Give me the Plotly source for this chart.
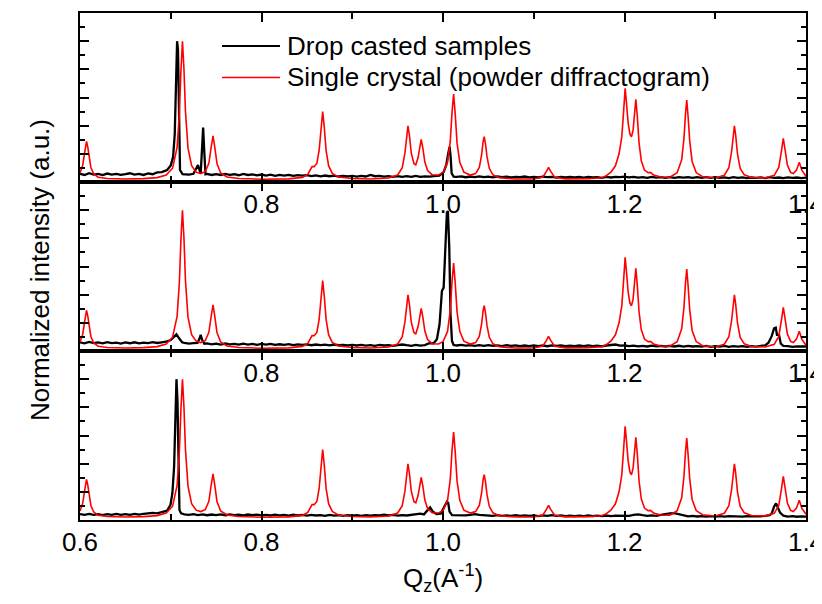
import plotly.graph_objects as go

# ---------------- data ----------------
# Powder diffractogram of the single crystal (same curve in all three panels)
red_q = [0.6000, 0.6030, 0.6050, 0.6062, 0.6072, 0.6085, 0.6100, 0.6120, 0.6150, 0.6200,
         0.6300, 0.6500, 0.6700, 0.6850, 0.6950, 0.7020, 0.7070, 0.7095, 0.7112, 0.7129,
         0.7145, 0.7162, 0.7190, 0.7230, 0.7280, 0.7330, 0.7380, 0.7420, 0.7445, 0.7466,
         0.7485, 0.7510, 0.7550, 0.7620, 0.7750, 0.8000, 0.8300, 0.8450, 0.8510, 0.8540,
         0.8557, 0.8580, 0.8610, 0.8635, 0.8655, 0.8674, 0.8692, 0.8712, 0.8740, 0.8780,
         0.8850, 0.9000, 0.9200, 0.9400, 0.9500, 0.9550, 0.9580, 0.9600, 0.9614, 0.9630,
         0.9650, 0.9680, 0.9700, 0.9725, 0.9745, 0.9760, 0.9778, 0.9800, 0.9830, 0.9880,
         0.9950, 1.0000, 1.0050, 1.0080, 1.0100, 1.0117, 1.0135, 1.0155, 1.0185, 1.0230,
         1.0300, 1.0360, 1.0400, 1.0425, 1.0442, 1.0454, 1.0468, 1.0485, 1.0510, 1.0550,
         1.0620, 1.0800, 1.1000, 1.1100, 1.1140, 1.1163, 1.1185, 1.1230, 1.1350, 1.1600,
         1.1750, 1.1800, 1.1850, 1.1900, 1.1940, 1.1970, 1.1990, 1.2007, 1.2022, 1.2040,
         1.2060, 1.2077, 1.2095, 1.2110, 1.2125, 1.2142, 1.2160, 1.2185, 1.2220, 1.2260,
         1.2285, 1.2320, 1.2400, 1.2500, 1.2580, 1.2630, 1.2655, 1.2672, 1.2686, 1.2700,
         1.2718, 1.2745, 1.2790, 1.2860, 1.3000, 1.3100, 1.3150, 1.3180, 1.3198, 1.3211,
         1.3225, 1.3245, 1.3275, 1.3320, 1.3400, 1.3550, 1.3650, 1.3700, 1.3730, 1.3750,
         1.3770, 1.3795, 1.3830, 1.3860, 1.3895, 1.3926, 1.3955, 1.4000]
red_v = [0.064, 0.119, 0.203, 0.265, 0.288, 0.251, 0.173, 0.103, 0.058, 0.034,
         0.025, 0.021, 0.024, 0.031, 0.049, 0.098, 0.246, 0.486, 0.787, 1.000,
         0.810, 0.502, 0.241, 0.116, 0.070, 0.060, 0.073, 0.133, 0.245, 0.328,
         0.248, 0.130, 0.064, 0.036, 0.025, 0.020, 0.022, 0.033, 0.054, 0.091,
         0.110, 0.109, 0.132, 0.224, 0.382, 0.500, 0.388, 0.223, 0.114, 0.061,
         0.035, 0.025, 0.021, 0.028, 0.050, 0.100, 0.203, 0.341, 0.398, 0.332,
         0.207, 0.130, 0.122, 0.172, 0.262, 0.303, 0.240, 0.142, 0.081, 0.052,
         0.050, 0.066, 0.139, 0.288, 0.500, 0.624, 0.480, 0.276, 0.140, 0.070,
         0.049, 0.060, 0.104, 0.190, 0.286, 0.322, 0.272, 0.180, 0.097, 0.051,
         0.030, 0.021, 0.021, 0.036, 0.075, 0.103, 0.077, 0.034, 0.022, 0.023,
         0.030, 0.045, 0.070, 0.115, 0.200, 0.320, 0.500, 0.665, 0.560, 0.420,
         0.340, 0.320, 0.370, 0.500, 0.587, 0.460, 0.280, 0.150, 0.085, 0.066,
         0.068, 0.050, 0.035, 0.034, 0.066, 0.157, 0.307, 0.482, 0.582, 0.470,
         0.297, 0.146, 0.067, 0.037, 0.028, 0.048, 0.101, 0.215, 0.341, 0.398,
         0.333, 0.199, 0.097, 0.051, 0.032, 0.029, 0.047, 0.103, 0.223, 0.310,
         0.226, 0.120, 0.068, 0.060, 0.084, 0.140, 0.082, 0.041]

# Common sampling positions of the drop-casted sample scans (baseline)
q_grid = [0.600, 0.605, 0.610, 0.615, 0.620, 0.625, 0.630, 0.635, 0.640, 0.645,
          0.650, 0.655, 0.660, 0.665, 0.670, 0.675, 0.680, 0.685, 0.690, 0.695,
          0.700, 0.705, 0.710, 0.715, 0.720, 0.725, 0.730, 0.735, 0.740, 0.745,
          0.750, 0.755, 0.760, 0.765, 0.770, 0.775, 0.780, 0.785, 0.790, 0.795,
          0.800, 0.805, 0.810, 0.815, 0.820, 0.825, 0.830, 0.835, 0.840, 0.845,
          0.850, 0.855, 0.860, 0.865, 0.870, 0.875, 0.880, 0.885, 0.890, 0.895,
          0.900, 0.905, 0.910, 0.915, 0.920, 0.925, 0.930, 0.935, 0.940, 0.945,
          0.950, 0.955, 0.960, 0.965, 0.970, 0.975, 0.980, 0.985, 0.990, 0.995,
          1.000, 1.005, 1.010, 1.015, 1.020, 1.025, 1.030, 1.035, 1.040, 1.045,
          1.050, 1.055, 1.060, 1.065, 1.070, 1.075, 1.080, 1.085, 1.090, 1.095,
          1.100, 1.105, 1.110, 1.115, 1.120, 1.125, 1.130, 1.135, 1.140, 1.145,
          1.150, 1.155, 1.160, 1.165, 1.170, 1.175, 1.180, 1.185, 1.190, 1.195,
          1.200, 1.205, 1.210, 1.215, 1.220, 1.225, 1.230, 1.235, 1.240, 1.245,
          1.250, 1.255, 1.260, 1.265, 1.270, 1.275, 1.280, 1.285, 1.290, 1.295,
          1.300, 1.305, 1.310, 1.315, 1.320, 1.325, 1.330, 1.335, 1.340, 1.345,
          1.350, 1.355, 1.360, 1.365, 1.370, 1.375, 1.380, 1.385, 1.390, 1.395,
          1.400]

# Panel 1 (top) drop-casted sample
top_base = [0.058, 0.050, 0.062, 0.052, 0.057, 0.049, 0.060, 0.053, 0.058, 0.051,
            0.056, 0.062, 0.052, 0.058, 0.050, 0.061, 0.055, 0.068, 0.062, 0.075,
            0.120, 1.000, 0.060, 0.055, 0.052, 0.058, 0.120, 0.050, 0.058, 0.050,
            0.056, 0.050, 0.058, 0.051, 0.055, 0.048, 0.057, 0.050, 0.054, 0.047,
            0.053, 0.046, 0.052, 0.044, 0.050, 0.046, 0.051, 0.043, 0.049, 0.045,
            0.048, 0.042, 0.047, 0.040, 0.046, 0.041, 0.045, 0.039, 0.044, 0.040,
            0.043, 0.038, 0.044, 0.039, 0.050, 0.041, 0.044, 0.038, 0.042, 0.037,
            0.042, 0.036, 0.041, 0.037, 0.043, 0.036, 0.040, 0.038, 0.042, 0.045,
            0.060, 0.180, 0.050, 0.036, 0.040, 0.034, 0.039, 0.035, 0.040, 0.034,
            0.038, 0.033, 0.039, 0.035, 0.038, 0.032, 0.037, 0.034, 0.039, 0.033,
            0.037, 0.032, 0.038, 0.034, 0.036, 0.031, 0.037, 0.033, 0.036, 0.032,
            0.036, 0.031, 0.037, 0.033, 0.035, 0.030, 0.036, 0.032, 0.037, 0.034,
            0.038, 0.033, 0.036, 0.031, 0.035, 0.030, 0.036, 0.031, 0.035, 0.030,
            0.034, 0.029, 0.035, 0.031, 0.034, 0.029, 0.035, 0.030, 0.034, 0.029,
            0.034, 0.029, 0.033, 0.028, 0.034, 0.030, 0.033, 0.028, 0.032, 0.029,
            0.033, 0.028, 0.034, 0.029, 0.032, 0.027, 0.033, 0.029, 0.032, 0.028,
            0.031]
top_peaks = [
    ([0.6900, 0.6960, 0.7000, 0.7026, 0.7044, 0.7057, 0.7070, 0.7080, 0.7091, 0.7102, 0.7130],
     [0.070, 0.085, 0.118, 0.178, 0.340, 0.820, 1.000, 0.940, 0.340, 0.085, 0.056]),
    ([0.7330, 0.7345, 0.7357, 0.7369, 0.7383],
     [0.060, 0.220, 0.386, 0.220, 0.055]),
    ([0.9960, 1.0007, 1.0036, 1.0058, 1.0073, 1.0084, 1.0095, 1.0117],
     [0.046, 0.070, 0.121, 0.204, 0.251, 0.180, 0.062, 0.038]),
]

# Panel 2 (middle) drop-casted sample
mid_base = [0.062, 0.055, 0.064, 0.056, 0.061, 0.054, 0.063, 0.056, 0.060, 0.053,
            0.061, 0.055, 0.062, 0.054, 0.060, 0.056, 0.063, 0.057, 0.062, 0.066,
            0.078, 0.110, 0.062, 0.058, 0.052, 0.056, 0.110, 0.050, 0.054, 0.047,
            0.052, 0.046, 0.053, 0.047, 0.051, 0.045, 0.052, 0.046, 0.050, 0.044,
            0.050, 0.045, 0.051, 0.044, 0.048, 0.043, 0.049, 0.042, 0.047, 0.043,
            0.047, 0.041, 0.046, 0.042, 0.045, 0.040, 0.046, 0.041, 0.044, 0.040,
            0.044, 0.039, 0.043, 0.038, 0.042, 0.037, 0.043, 0.039, 0.041, 0.037,
            0.042, 0.046, 0.041, 0.037, 0.043, 0.038, 0.042, 0.055, 0.080, 0.300,
            0.400, 0.900, 0.050, 0.039, 0.043, 0.038, 0.042, 0.037, 0.041, 0.036,
            0.041, 0.036, 0.040, 0.035, 0.041, 0.036, 0.040, 0.034, 0.039, 0.035,
            0.040, 0.035, 0.039, 0.034, 0.040, 0.036, 0.039, 0.034, 0.038, 0.035,
            0.039, 0.034, 0.040, 0.035, 0.038, 0.033, 0.039, 0.042, 0.046, 0.038,
            0.039, 0.034, 0.038, 0.033, 0.037, 0.032, 0.038, 0.033, 0.037, 0.032,
            0.036, 0.032, 0.037, 0.031, 0.036, 0.032, 0.035, 0.031, 0.036, 0.030,
            0.035, 0.031, 0.036, 0.030, 0.034, 0.031, 0.035, 0.030, 0.034, 0.031,
            0.035, 0.040, 0.100, 0.160, 0.060, 0.032, 0.034, 0.029, 0.033, 0.030,
            0.032]
mid_peaks = [
    ([0.6900, 0.6960, 0.7000, 0.7035, 0.7063, 0.7090, 0.7125],
     [0.062, 0.068, 0.078, 0.103, 0.118, 0.092, 0.062]),
    ([0.7295, 0.7318, 0.7330, 0.7345, 0.7370],
     [0.058, 0.090, 0.115, 0.080, 0.052]),
    ([0.9896, 0.9933, 0.9962, 0.9988, 1.0007, 1.0025, 1.0043, 1.0054, 1.0069, 1.0083, 1.0099, 1.0117],
     [0.055, 0.083, 0.190, 0.426, 0.450, 0.734, 0.982, 0.994, 0.734, 0.260, 0.071, 0.043]),
    ([1.3586, 1.3623, 1.3648, 1.3667, 1.3680, 1.3703, 1.3722, 1.3750],
     [0.059, 0.107, 0.161, 0.166, 0.114, 0.114, 0.052, 0.036]),
]

# Panel 3 (bottom) drop-casted sample
bot_base = [0.042, 0.036, 0.043, 0.037, 0.041, 0.035, 0.042, 0.037, 0.043, 0.036,
            0.042, 0.037, 0.044, 0.038, 0.043, 0.046, 0.050, 0.047, 0.053, 0.064,
            0.110, 0.800, 0.045, 0.040, 0.036, 0.041, 0.035, 0.040, 0.034, 0.039,
            0.035, 0.040, 0.034, 0.039, 0.035, 0.038, 0.033, 0.039, 0.034, 0.038,
            0.033, 0.037, 0.032, 0.038, 0.033, 0.036, 0.031, 0.037, 0.032, 0.036,
            0.031, 0.036, 0.032, 0.035, 0.030, 0.036, 0.031, 0.035, 0.030, 0.034,
            0.031, 0.035, 0.030, 0.034, 0.031, 0.035, 0.032, 0.038, 0.033, 0.036,
            0.031, 0.035, 0.032, 0.036, 0.040, 0.045, 0.070, 0.090, 0.050, 0.042,
            0.090, 0.120, 0.040, 0.034, 0.038, 0.033, 0.037, 0.042, 0.036, 0.033,
            0.035, 0.030, 0.034, 0.029, 0.033, 0.029, 0.034, 0.030, 0.033, 0.029,
            0.032, 0.028, 0.033, 0.029, 0.035, 0.030, 0.032, 0.028, 0.031, 0.027,
            0.031, 0.027, 0.032, 0.028, 0.031, 0.027, 0.032, 0.028, 0.031, 0.029,
            0.032, 0.030, 0.036, 0.040, 0.034, 0.030, 0.033, 0.029, 0.036, 0.042,
            0.047, 0.048, 0.040, 0.030, 0.026, 0.029, 0.025, 0.028, 0.024, 0.028,
            0.025, 0.028, 0.024, 0.027, 0.025, 0.028, 0.024, 0.027, 0.025, 0.028,
            0.026, 0.030, 0.047, 0.100, 0.050, 0.028, 0.024, 0.027, 0.023, 0.026,
            0.024]
bot_peaks = [
    ([0.6886, 0.6960, 0.6997, 0.7018, 0.7037, 0.7052, 0.7063, 0.7074, 0.7085, 0.7096, 0.7114],
     [0.052, 0.066, 0.107, 0.190, 0.379, 0.734, 1.000, 0.852, 0.379, 0.071, 0.047]),
    ([0.9790, 0.9825, 0.9858, 0.9890, 0.9930, 0.9975, 1.0014, 1.0043, 1.0058, 1.0072, 1.0100],
     [0.040, 0.070, 0.090, 0.058, 0.042, 0.045, 0.095, 0.130, 0.120, 0.060, 0.035]),
    ([1.3600, 1.3623, 1.3648, 1.3670, 1.3692, 1.3714, 1.3750],
     [0.035, 0.047, 0.095, 0.118, 0.083, 0.052, 0.031]),
]

x_tick_vals = [0.6, 0.8, 1.0, 1.2, 1.4]
x_tick_text = ["0.6", "0.8", "1.0", "1.2", "1.4"]
x_minor_vals = [0.7, 0.9, 1.1, 1.3]
legend_names = ["Drop casted samples", "Single crystal (powder diffractogram)"]


def merge(grid_q, grid_v, segments):
    spans = [(min(q), max(q)) for q, _ in segments]
    pts = [(q, v) for q, v in zip(grid_q, grid_v)
           if not any(a <= q <= b for a, b in spans)]
    for q, v in segments:
        pts.extend(zip(q, v))
    pts.sort()
    return [p[0] for p in pts], [p[1] for p in pts]


panels = [merge(q_grid, top_base, top_peaks),
          merge(q_grid, mid_base, mid_peaks),
          merge(q_grid, bot_base, bot_peaks)]

# ---------------- figure ----------------
# the page body adds an 8 px offset, so the figure is sized/margined for that
PAGE_OFF = 8
W, H = 814, 588
ML, MR, MT, MB = 72, 16, 5, 76
FONT = "Liberation Sans, Arial, Helvetica, sans-serif"

fig = go.Figure()
for i, (bq, bv) in enumerate(panels, start=1):
    sfx = "" if i == 1 else str(i)
    fig.add_trace(go.Scatter(x=bq, y=bv, mode="lines", name=legend_names[0],
                             line=dict(color="black", width=2.3),
                             xaxis="x" + sfx, yaxis="y" + sfx, showlegend=False))
    fig.add_trace(go.Scatter(x=red_q, y=red_v, mode="lines", name=legend_names[1],
                             line=dict(color="#ff0000", width=1.6),
                             xaxis="x" + sfx, yaxis="y" + sfx, showlegend=False))

domains = [[2/3, 1.0], [1/3, 2/3], [0.0, 1/3]]
for i in range(1, 4):
    sfx = "" if i == 1 else str(i)
    ttext = list(x_tick_text) if i == 3 else [""] + x_tick_text[1:]
    xa = dict(domain=[0, 1], anchor="y" + sfx, range=[0.6, 1.4],
              tickmode="array", tickvals=x_tick_vals, ticktext=ttext,
              ticks="inside", ticklen=9, tickwidth=2, tickcolor="black",
              minor=dict(tickmode="array", tickvals=x_minor_vals, ticks="inside",
                         ticklen=6, tickwidth=2, tickcolor="black"),
              showline=True, linewidth=2, linecolor="black", mirror="ticks",
              showgrid=False, zeroline=False, automargin=False,
              ticklabeloverflow="allow",
              tickfont=dict(family=FONT, size=26, color="black"),
              ticklabelstandoff=-2)
    ya = dict(domain=domains[i - 1], anchor="x" + sfx, range=[0, 1.2],
              tickmode="linear", tick0=0, dtick=0.2,
              ticks="inside", ticklen=9, tickwidth=2, tickcolor="black",
              minor=dict(tickmode="linear", tick0=0, dtick=0.1, ticks="inside",
                         ticklen=5, tickwidth=2, tickcolor="black"),
              showticklabels=False, automargin=False,
              showline=True, linewidth=2, linecolor="black", mirror="ticks",
              showgrid=False, zeroline=False)
    fig.layout["xaxis" + sfx] = xa
    fig.layout["yaxis" + sfx] = ya


def px_x(px):
    return (px - PAGE_OFF - ML) / (W - ML - MR)


def px_y(py):
    return 1 - (py - PAGE_OFF - MT) / (H - MT - MB)


shapes = []
annotations = []
for (py, color, width), name in zip([(46, "black", 2), (77.5, "#ff0000", 1.6)], legend_names):
    shapes.append(dict(type="line", xref="paper", yref="paper",
                       x0=px_x(222), x1=px_x(280), y0=px_y(py), y1=px_y(py),
                       line=dict(color=color, width=width)))
    annotations.append(dict(xref="paper", yref="paper", x=px_x(285), y=px_y(py),
                            xanchor="left", yanchor="middle", showarrow=False,
                            text=name, font=dict(family=FONT, size=26, color="black")))

annotations.append(dict(xref="paper", yref="paper", x=px_x(40), y=px_y(270),
                        xanchor="center", yanchor="middle", showarrow=False,
                        textangle=-90, text="Normalized intensity (a.u.)",
                        font=dict(family=FONT, size=26, color="black")))
annotations.append(dict(xref="paper", yref="paper", x=px_x(443), y=px_y(578),
                        xanchor="center", yanchor="middle", showarrow=False,
                        text="Q<sub>z</sub>(A<sup>-1</sup>)",
                        font=dict(family=FONT, size=26, color="black")))

fig.update_layout(width=W, height=H, margin=dict(l=ML, r=MR, t=MT, b=MB, autoexpand=False),
                  paper_bgcolor="white", plot_bgcolor="white",
                  shapes=shapes, annotations=annotations, showlegend=False)

fig.write_html("out.html")
